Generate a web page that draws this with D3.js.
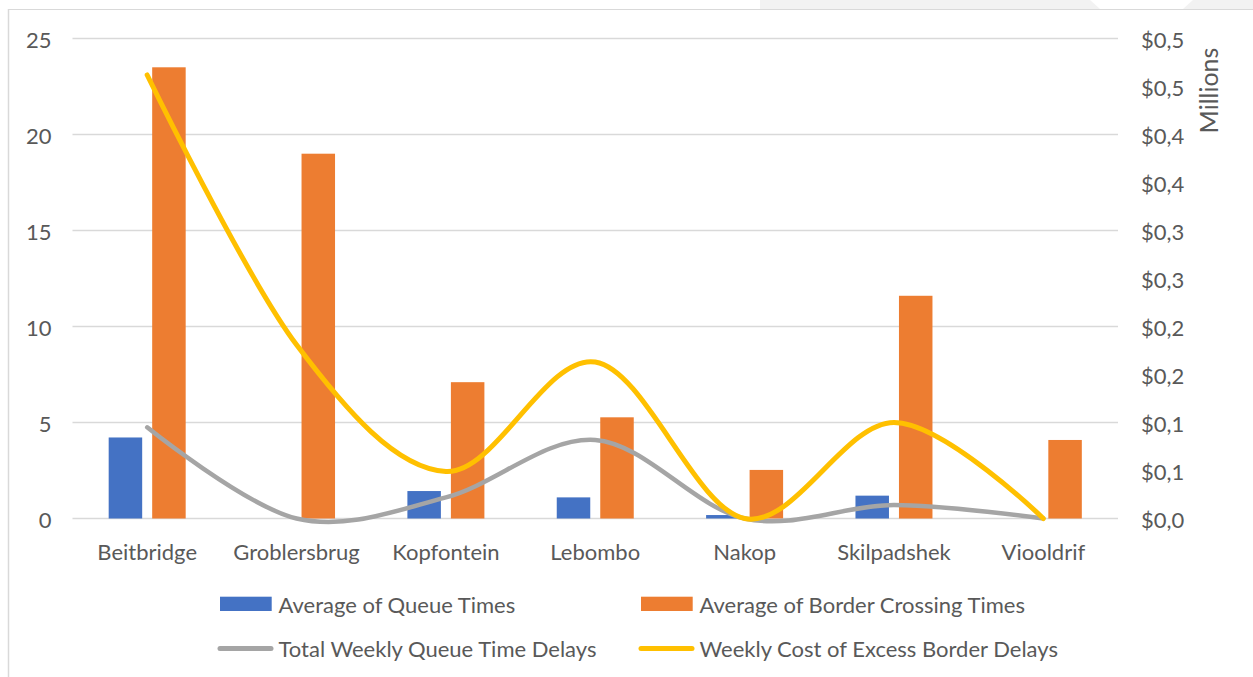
<!DOCTYPE html>
<html>
<head>
<meta charset="utf-8">
<script src="https://cdn.jsdelivr.net/npm/d3@7"></script>
<style>
  html, body { margin: 0; padding: 0; background: #ffffff; }
  svg { display: block; font-family: Lato, "Open Sans", sans-serif; }
</style>
</head>
<body>
<svg id="chart" width="1253" height="677"></svg>
<script>
// Border posts
const categories = ["Beitbridge", "Groblersbrug", "Kopfontein", "Lebombo", "Nakop", "Skilpadshek", "Viooldrif"];
// Bars (hours, left axis)
const avgQueueTimes = [4.22, 0, 1.43, 1.10, 0.18, 1.19, 0];
const avgBorderCrossingTimes = [23.5, 19.0, 7.1, 5.27, 2.53, 11.6, 4.09];
// Smoothed lines
const totalWeeklyQueueDelays = [4.75, 0, 1.1, 4.09, 0, 0.7, 0];            // left axis
const weeklyCostExcessDelays = [0.462, 0.181, 0.049, 0.163, 0, 0.100, 0];   // right axis, millions
// Axis ticks
const leftTicks = [0, 5, 10, 15, 20, 25];
const rightTicks = [0, 0.05, 0.1, 0.15, 0.2, 0.25, 0.3, 0.35, 0.4, 0.45, 0.5];

const seriesNames = ["Average of Queue Times", "Average of Border Crossing Times",
                     "Total Weekly Queue Time Delays", "Weekly Cost of Excess Border Delays"];
const colors = { blue: "#4472C4", orange: "#ED7D31", gray: "#A5A5A5", yellow: "#FFC000" };
const textColor = "#595959";
const gridColor = "#d9d9d9";
const fontSize = 22;

const svg = d3.select("#chart");

// Light background band along the top edge and the chart frame
svg.append("rect").attr("x", 760).attr("y", 0).attr("width", 493).attr("height", 9).attr("fill", "#f2f2f2");
svg.append("path").attr("d", "M1090,0 L1193,0 L1183,9 L1100,9 Z").attr("fill", "#ffffff");
svg.append("line").attr("x1", 8.5).attr("x2", 8.5).attr("y1", 9).attr("y2", 677)
  .attr("stroke", gridColor).attr("stroke-width", 1.5);
svg.append("line").attr("x1", 8).attr("x2", 1253).attr("y1", 9.5).attr("y2", 9.5)
  .attr("stroke", gridColor).attr("stroke-width", 1.2);

const plot = { left: 72.5, right: 1118, top: 38.5, bottom: 518.5 };

const x = d3.scaleBand().domain(categories).range([plot.left, plot.right]);
const yL = d3.scaleLinear().domain([0, 25]).range([plot.bottom, plot.top]);
const yR = d3.scaleLinear().domain([0, 0.5]).range([plot.bottom, plot.top]);

// Gridlines at left-axis ticks
svg.append("g").selectAll("line").data(leftTicks).join("line")
  .attr("x1", plot.left).attr("x2", plot.right)
  .attr("y1", d => yL(d)).attr("y2", d => yL(d))
  .attr("stroke", gridColor).attr("stroke-width", 1.5);

// Left axis
const leftAxis = svg.append("g")
  .attr("transform", `translate(${plot.left - 21},0)`)
  .call(d3.axisLeft(yL).tickValues(leftTicks).tickSize(0).tickPadding(0).tickFormat(d3.format("d")));
leftAxis.select(".domain").remove();
leftAxis.selectAll("text").attr("fill", textColor).attr("font-size", fontSize)
  .attr("font-family", "Lato, sans-serif").attr("dy", null).attr("dominant-baseline", "central");

// Right axis (millions, one decimal with comma, rounding halves up)
const fmtMoney = d => "$" + (Math.round(d * 10 + 1e-9) / 10).toFixed(1).replace(".", ",");
const rightAxis = svg.append("g")
  .attr("transform", `translate(${plot.right + 23},0)`)
  .call(d3.axisRight(yR).tickValues(rightTicks).tickSize(0).tickPadding(0).tickFormat(fmtMoney));
rightAxis.select(".domain").remove();
rightAxis.selectAll("text").attr("fill", textColor).attr("font-size", fontSize)
  .attr("font-family", "Lato, sans-serif").attr("dy", null).attr("dominant-baseline", "central");

svg.append("text")
  .attr("transform", "translate(1208,90.5) rotate(-90)")
  .attr("text-anchor", "middle").attr("dominant-baseline", "central")
  .attr("fill", textColor).attr("font-size", 25).text("Millions");

// Category axis labels
const bottomAxis = svg.append("g")
  .attr("transform", `translate(0,551)`)
  .call(d3.axisBottom(x).tickSize(0).tickPadding(0));
bottomAxis.select(".domain").remove();
bottomAxis.selectAll("text").attr("fill", textColor).attr("font-size", fontSize)
  .attr("font-family", "Lato, sans-serif").attr("dy", null).attr("y", 0).attr("dominant-baseline", "central");

// Grouped bars
const barW = 33.5, barGap = 10;
const bars = svg.append("g");
bars.selectAll("rect.q").data(categories).join("rect")
  .attr("class", "q")
  .attr("x", d => x(d) + x.bandwidth() / 2 - barGap / 2 - barW)
  .attr("width", barW)
  .attr("y", (d, i) => yL(avgQueueTimes[i]))
  .attr("height", (d, i) => yL(0) - yL(avgQueueTimes[i]))
  .attr("fill", colors.blue);
bars.selectAll("rect.b").data(categories).join("rect")
  .attr("class", "b")
  .attr("x", d => x(d) + x.bandwidth() / 2 + barGap / 2)
  .attr("width", barW)
  .attr("y", (d, i) => yL(avgBorderCrossingTimes[i]))
  .attr("height", (d, i) => yL(0) - yL(avgBorderCrossingTimes[i]))
  .attr("fill", colors.orange);

// Smoothed lines
const cx = d => x(d) + x.bandwidth() / 2;
const grayLine = d3.line().x((d, i) => cx(categories[i])).y(d => yL(d)).curve(d3.curveCardinal.tension(0));
const yellowLine = d3.line().x((d, i) => cx(categories[i])).y(d => yR(d)).curve(d3.curveCardinal.tension(0));

svg.append("path").attr("d", grayLine(totalWeeklyQueueDelays))
  .attr("fill", "none").attr("stroke", colors.gray).attr("stroke-width", 4.5)
  .attr("stroke-linecap", "round").attr("stroke-linejoin", "round");
svg.append("path").attr("d", yellowLine(weeklyCostExcessDelays))
  .attr("fill", "none").attr("stroke", colors.yellow).attr("stroke-width", 5)
  .attr("stroke-linecap", "round").attr("stroke-linejoin", "round");

// Legend
const legend = svg.append("g").attr("font-size", fontSize).attr("fill", textColor);
const legendItems = [
  { name: seriesNames[0], type: "rect", color: colors.blue, x: 220, y: 604 },
  { name: seriesNames[1], type: "rect", color: colors.orange, x: 641, y: 604 },
  { name: seriesNames[2], type: "line", color: colors.gray, x: 220, y: 648.5 },
  { name: seriesNames[3], type: "line", color: colors.yellow, x: 641, y: 648.5 }
];
legendItems.forEach(it => {
  if (it.type === "rect") {
    legend.append("rect").attr("x", it.x).attr("y", it.y - 7.3).attr("width", 51.7).attr("height", 14.3)
      .attr("fill", it.color);
  } else {
    legend.append("line").attr("x1", it.x).attr("x2", it.x + 51).attr("y1", it.y).attr("y2", it.y)
      .attr("stroke", it.color).attr("stroke-width", 5).attr("stroke-linecap", "round");
  }
  legend.append("text").attr("x", it.x + 58.5).attr("y", it.y)
    .attr("dominant-baseline", "central").attr("fill", textColor).text(it.name);
});
</script>
</body>
</html>
